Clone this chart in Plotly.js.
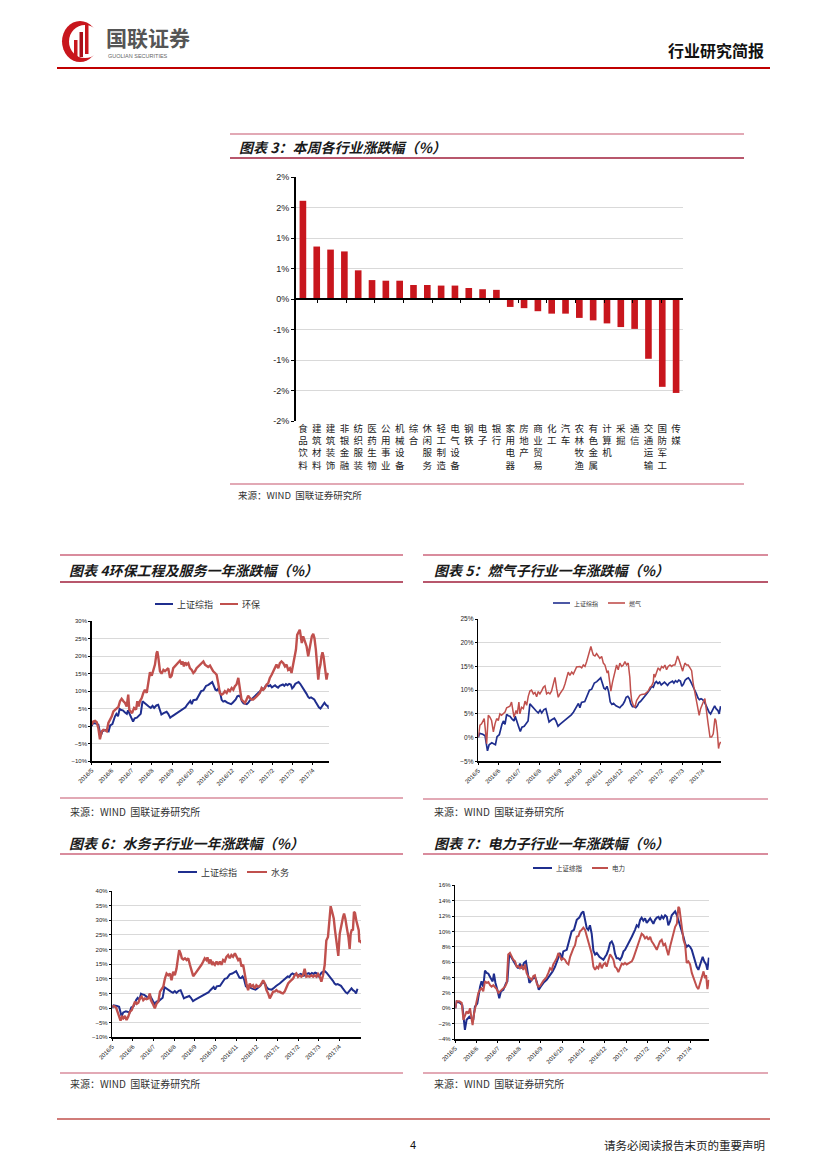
<!DOCTYPE html>
<html><head><meta charset="utf-8">
<script src="https://cdn.plot.ly/plotly-3.0.1.min.js"></script>
<style>html,body{margin:0;padding:0;background:#fff}#page{width:827px;height:1169px}</style>
</head><body><div id="page"></div>
<script>
// ---------- DATA ----------
const industries = ['食品饮料','建筑材料','建筑装饰','非银金融','纺织服装','医药生物','公用事业','机械设备','综合','休闲服务','轻工制造','电气设备','钢铁','电子','银行','家用电器','房地产','商业贸易','化工','汽车','农林牧渔','有色金属','计算机','采掘','通信','交通运输','国防军工','传媒'];
const weeklyChange = [1.61,0.86,0.81,0.78,0.47,0.31,0.30,0.30,0.23,0.23,0.22,0.22,0.18,0.16,0.15,-0.13,-0.15,-0.20,-0.24,-0.24,-0.31,-0.35,-0.40,-0.46,-0.49,-0.98,-1.44,-1.54];
const barTickVals = [-2,-1.5,-1,-0.5,0,0.5,1,1.5,2];
const barTickText = ['-2%','-2%','-1%','-1%','0%','1%','1%','2%','2%'];

const monthTicks = [0,1,2,3,4,5,6,7,8,9,10,11];
const monthLabels = ['2016/5','2016/6','2016/7','2016/8','2016/9','2016/10','2016/11','2016/12','2017/1','2017/2','2017/3','2017/4'];

// 上证综指 (months since 2016/5, %)
const shIndexMonths = [0,0.06,0.22,0.33,0.45,0.53,0.66,0.77,0.84,0.92,1.03,1.16,1.23,1.31,1.39,1.47,1.55,1.66,1.75,1.81,1.88,1.97,2.06,2.14,2.25,2.38,2.44,2.53,2.64,2.75,2.84,2.94,3.03,3.11,3.22,3.31,3.38,3.47,3.58,3.66,3.73,3.81,3.91,4.00,4.13,4.28,4.44,4.56,4.67,4.75,4.83,4.91,4.98,5.06,5.22,5.38,5.45,5.56,5.69,5.81,5.92,6.00,6.08,6.16,6.23,6.31,6.39,6.47,6.55,6.63,6.75,6.86,6.94,7.02,7.09,7.17,7.25,7.33,7.41,7.48,7.56,7.64,7.72,7.80,7.88,7.95,8.11,8.27,8.42,8.50,8.58,8.66,8.73,8.81,8.89,8.97,9.13,9.20,9.28,9.36,9.44,9.52,9.59,9.67,9.75,9.83,9.91,9.98,10.06,10.14,10.22,10.30,10.38,10.45,10.53,10.61,10.69,10.77,10.84,10.92,11.00,11.08,11.16,11.23,11.31,11.39,11.47,11.55,11.59,11.66,11.75,11.81,11.88];
const shIndexValues = [0,0.9,0.7,0.4,-2.8,-1.5,-1.1,-1.3,-1.5,0.2,0.6,2.8,3.5,2.8,4.9,4.6,4.5,3.9,3.5,4.5,3.3,2.4,1.3,2.2,2.4,3.3,3.5,7.1,6.5,6.1,5.6,5.2,5.8,5.2,5.9,6.1,5.0,3.3,3.7,3.9,4.1,3.5,2.4,2.8,3.3,3.7,4.3,4.8,5.4,6.1,6.7,7.2,6.3,7.4,7.6,9.3,10.0,10.2,11.5,11.8,12.4,12.6,11.5,10.4,10.2,10.8,9.7,7.5,7.0,7.2,6.7,6.5,6.3,6.7,7.0,7.6,8.5,8.7,8.2,7.1,6.5,6.5,6.3,6.7,7.4,7.6,8.4,9.3,10.2,10.8,10.6,11.5,11.8,11.4,11.7,11.1,11.7,11.3,11.0,11.5,11.8,11.9,11.5,12.0,11.7,12.1,11.9,10.8,11.3,12.1,12.4,12.6,12.1,11.5,10.8,10.2,9.3,8.4,8.0,8.2,8.0,7.6,6.8,6.1,5.4,5.0,5.7,6.3,6.7,6.1,5.7,5.0,6.6];

// 环保
const envMonths = [0,0.08,0.17,0.25,0.33,0.41,0.50,0.58,0.66,0.75,0.83,0.91,1.00,1.08,1.16,1.24,1.33,1.41,1.49,1.58,1.66,1.74,1.82,1.87,1.94,2.01,2.11,2.21,2.27,2.34,2.40,2.49,2.57,2.65,2.74,2.82,2.90,2.99,3.07,3.15,3.23,3.27,3.32,3.40,3.48,3.57,3.65,3.73,3.81,3.90,3.98,4.06,4.23,4.31,4.39,4.48,4.53,4.59,4.66,4.73,4.81,4.89,4.98,5.06,5.14,5.22,5.31,5.39,5.47,5.56,5.64,5.72,5.80,5.89,5.97,6.05,6.14,6.22,6.30,6.38,6.47,6.55,6.63,6.72,6.80,6.88,6.97,7.05,7.13,7.21,7.30,7.35,7.41,7.46,7.55,7.63,7.71,7.79,7.88,7.96,8.04,8.13,8.21,8.29,8.37,8.46,8.54,8.62,8.71,8.79,8.87,8.96,9.04,9.12,9.20,9.29,9.37,9.45,9.54,9.62,9.70,9.78,9.87,9.95,10.03,10.12,10.17,10.23,10.30,10.36,10.41,10.46,10.53,10.61,10.70,10.78,10.83,10.90,10.96,11.03,11.09,11.16,11.23,11.28,11.33,11.39,11.44,11.49,11.54,11.61,11.66,11.69,11.74,11.79];
const envValues = [0.4,1.3,1.5,1.1,-0.6,-3.8,-1.5,-1.1,-1.2,-1.5,0.9,1.8,2.8,4.2,4.7,4.9,5.5,7.1,7.8,7.1,6.6,5.6,9.0,4.7,4.2,3.7,5.2,4.7,7.1,5.6,7.1,8.0,9.5,10.4,9.5,12.3,15.4,14.4,16.0,17.6,20.9,21.4,19.5,15.7,15.0,16.1,15.7,16.3,16.6,13.8,14.4,16.6,17.6,18.0,18.7,17.6,18.5,17.1,18.2,17.6,18.0,16.6,16.1,15.2,15.7,16.6,17.1,17.6,18.2,18.5,17.6,17.1,16.9,17.3,16.3,15.7,15.2,14.7,12.3,9.5,9.0,9.3,10.0,9.5,10.4,10.0,10.9,10.4,11.4,11.9,13.8,12.3,9.5,7.6,7.1,6.6,7.6,8.7,8.0,7.6,7.6,8.0,8.5,9.0,9.5,10.9,10.4,10.9,11.9,12.3,13.8,14.7,15.7,16.6,17.6,16.6,18.0,18.5,18.0,17.1,17.6,16.1,16.6,15.2,17.6,19.5,21.9,26.1,27.1,27.6,25.7,23.8,25.7,24.2,22.8,20.0,21.9,24.2,25.7,26.4,25.2,21.9,17.1,13.3,16.1,17.6,20.0,21.1,20.0,16.6,14.2,13.3,14.7,15.2];

// 燃气
const gasMonths = [0,0.08,0.16,0.25,0.29,0.34,0.41,0.49,0.57,0.65,0.74,0.82,0.90,0.98,1.06,1.14,1.23,1.31,1.39,1.47,1.55,1.63,1.68,1.75,1.85,1.91,1.99,2.04,2.12,2.21,2.29,2.37,2.45,2.53,2.61,2.70,2.78,2.86,2.94,3.02,3.10,3.19,3.27,3.35,3.43,3.51,3.59,3.68,3.76,3.84,3.92,4.00,4.08,4.17,4.25,4.33,4.41,4.49,4.58,4.66,4.82,4.98,5.07,5.15,5.23,5.31,5.39,5.47,5.52,5.59,5.64,5.72,5.80,5.88,5.96,6.05,6.13,6.21,6.26,6.32,6.37,6.45,6.50,6.58,6.65,6.73,6.78,6.86,6.94,7.03,7.11,7.19,7.27,7.35,7.40,7.43,7.47,7.52,7.60,7.68,7.76,7.84,7.92,8.01,8.09,8.17,8.25,8.33,8.42,8.50,8.58,8.61,8.66,8.74,8.77,8.82,8.91,8.99,9.07,9.15,9.23,9.31,9.40,9.48,9.56,9.64,9.72,9.77,9.84,9.89,9.97,10.02,10.08,10.13,10.21,10.29,10.38,10.46,10.54,10.62,10.70,10.78,10.83,10.90,10.95,11.03,11.11,11.16,11.23,11.27,11.36,11.44,11.52,11.60,11.65,11.72,11.78,11.81,11.88];
const gasValues = [0.1,2.6,2.9,3.6,4.0,1.9,-1.3,4.7,4.3,3.6,1.2,2.9,4.0,3.6,5.0,4.7,5.2,5.4,6.3,6.4,6.6,7.5,5.7,4.3,5.7,5.0,7.5,5.0,6.4,6.1,7.7,6.8,8.7,9.8,10.0,9.2,9.5,8.6,9.7,9.2,9.8,10.6,10.9,9.2,9.5,9.2,9.8,11.3,12.7,10.3,8.5,9.2,9.8,10.3,11.3,12.7,13.8,13.1,13.8,13.4,14.9,15.0,14.7,15.3,15.0,16.0,17.1,18.5,19.2,18.1,17.4,17.2,17.7,17.2,16.7,17.1,15.7,15.3,14.7,13.6,14.1,11.3,9.8,11.7,13.1,14.1,15.3,14.3,15.7,15.0,15.3,16.0,15.3,15.7,14.3,12.7,9.8,7.8,6.8,6.4,7.8,8.5,8.9,9.1,9.1,9.2,9.5,9.8,10.6,10.9,11.7,13.4,12.7,13.8,14.0,14.7,14.2,15.0,14.7,15.3,14.3,15.0,15.3,15.0,15.3,15.3,16.4,17.2,16.4,15.7,14.7,14.0,15.0,15.7,15.3,15.3,14.7,14.1,11.3,9.6,8.2,6.4,4.7,6.1,6.8,7.5,8.2,6.8,5.0,2.9,0.1,0.1,0.8,4.0,3.6,1.2,-2.3,-1.6,-0.9];

// 水务
const waterMonths = [0,0.08,0.18,0.26,0.34,0.40,0.47,0.53,0.61,0.69,0.77,0.85,0.94,1.02,1.10,1.18,1.26,1.34,1.42,1.50,1.58,1.66,1.74,1.82,1.87,1.95,2.02,2.06,2.15,2.23,2.31,2.39,2.47,2.55,2.63,2.71,2.79,2.87,2.95,3.03,3.11,3.19,3.24,3.31,3.37,3.44,3.52,3.60,3.68,3.76,3.84,3.92,4.00,4.08,4.16,4.24,4.32,4.40,4.48,4.56,4.61,4.69,4.76,4.84,4.89,4.97,5.05,5.13,5.21,5.29,5.37,5.45,5.53,5.61,5.69,5.77,5.85,5.94,6.02,6.10,6.18,6.26,6.34,6.42,6.50,6.58,6.66,6.74,6.82,6.90,6.98,7.06,7.15,7.23,7.31,7.39,7.47,7.55,7.63,7.71,7.79,7.87,7.95,8.03,8.11,8.19,8.27,8.35,8.44,8.52,8.60,8.68,8.76,8.84,8.92,9.00,9.08,9.16,9.24,9.32,9.40,9.48,9.56,9.65,9.73,9.81,9.89,9.97,10.05,10.13,10.21,10.29,10.32,10.37,10.45,10.53,10.58,10.65,10.73,10.79,10.85,10.95,11.02,11.10,11.18,11.23,11.29,11.37,11.44,11.50,11.55,11.60,11.66,11.71,11.76,11.82,11.89,11.94,11.97,12.02,12.06];
const waterValues = [0.5,0.7,0.2,-1.3,-3.0,-4.3,-3.0,-3.5,-2.7,-4.1,-3.0,-1.3,-0.7,1.0,2.2,1.4,1.8,3.3,3.9,2.7,3.3,3.0,3.3,5.0,2.7,1.6,0.5,-0.1,1.6,2.2,5.6,6.7,7.3,10.1,11.8,11.2,11.8,9.5,12.4,11.2,13.4,17.5,19.8,18.6,17.0,16.6,17.0,16.4,17.0,14.8,12.5,10.9,11.6,12.4,12.9,14.1,14.8,15.8,17.0,16.4,17.3,15.2,16.6,14.7,15.5,14.8,15.9,14.8,15.9,14.8,16.4,15.9,17.5,18.1,17.0,18.1,17.5,18.7,17.5,16.4,17.0,14.2,14.8,10.9,8.4,6.1,8.4,7.3,7.8,6.7,7.8,7.3,7.5,8.4,9.5,8.4,6.1,5.0,3.3,4.4,5.6,5.6,6.1,5.6,5.6,5.2,5.0,5.6,7.3,8.4,9.0,9.5,10.1,11.2,11.8,10.7,11.2,10.7,11.2,13.4,10.7,10.9,10.7,11.2,10.7,11.2,10.7,11.6,10.7,9.0,11.2,14.7,18.6,23.1,24.3,31.1,34.8,32.9,30.6,26.6,23.1,17.8,25.4,28.9,31.1,32.3,30.6,27.1,24.3,20.2,25.4,26.6,26.8,32.9,32.5,30.0,28.3,26.6,22.5,23.1,22.2];

// 电力
const powerMonths = [0,0.06,0.19,0.30,0.38,0.45,0.53,0.61,0.69,0.77,0.81,0.88,0.97,1.08,1.16,1.23,1.31,1.39,1.47,1.55,1.63,1.70,1.78,1.86,1.94,2.02,2.09,2.17,2.25,2.33,2.41,2.48,2.56,2.64,2.72,2.80,2.88,2.95,3.03,3.11,3.19,3.27,3.34,3.42,3.50,3.58,3.66,3.73,3.81,3.89,3.97,4.05,4.13,4.20,4.28,4.36,4.44,4.52,4.59,4.67,4.75,4.83,4.91,4.98,5.06,5.14,5.22,5.30,5.38,5.45,5.53,5.61,5.69,5.77,5.84,5.92,6.00,6.08,6.16,6.23,6.31,6.39,6.47,6.55,6.63,6.70,6.78,6.86,6.94,7.02,7.09,7.17,7.25,7.33,7.41,7.48,7.56,7.64,7.72,7.80,7.88,7.95,8.03,8.11,8.19,8.27,8.34,8.42,8.50,8.58,8.66,8.73,8.81,8.89,8.97,9.05,9.13,9.20,9.28,9.36,9.44,9.52,9.59,9.67,9.75,9.83,9.91,9.98,10.06,10.14,10.22,10.30,10.38,10.45,10.50,10.56,10.61,10.69,10.77,10.84,10.92,11.00,11.08,11.16,11.23,11.31,11.39,11.47,11.55,11.63,11.70,11.75,11.81,11.88];
const powerValues = [0,0.9,0.9,0.7,-1.5,-0.9,-0.4,-0.7,0.0,-1.5,-2.2,-0.7,0.7,2.0,2.4,2.6,2.2,3.5,3.3,3.4,3.0,2.8,3.0,2.8,2.5,2.0,2.2,2.3,2.6,2.8,3.3,7.0,7.2,6.7,6.3,6.1,5.4,5.5,5.2,5.5,5.0,5.7,4.6,4.1,3.9,3.7,4.2,4.3,3.3,2.8,2.9,3.3,3.6,3.8,4.1,4.6,5.2,5.0,5.7,6.1,6.5,7.2,6.7,6.3,6.5,6.3,5.9,5.7,6.7,7.3,7.8,8.2,9.3,9.4,10.0,10.2,10.5,10.2,9.3,8.9,8.0,7.1,5.4,5.0,5.4,5.2,5.9,5.2,5.7,5.9,5.4,6.3,7.0,6.7,6.3,5.4,5.2,4.7,5.4,5.8,5.7,5.9,5.7,5.8,5.9,6.1,6.5,7.2,8.0,8.7,9.3,9.7,9.5,9.1,9.3,8.9,9.3,8.7,8.4,8.0,7.6,8.2,8.7,8.9,8.2,8.4,7.6,6.9,8.0,8.9,9.7,10.6,11.0,13.2,13.0,11.5,10.2,8.9,8.2,5.9,6.1,5.7,4.6,3.9,3.3,2.8,2.5,3.3,4.3,4.8,3.9,4.3,2.5,3.7];

// ---------- LAYOUT HELPERS ----------
const W = 827, H = 1169;
const px = x => x / W, py = y => 1 - y / H;
const CJK = '"Noto Sans CJK SC", "Noto Sans", Arial, sans-serif';
const BLUE = '#1f2e8e', RED = '#c0504d', BARRED = '#c8161d';
const PINK = '#d98c9d', DARK = '#a11f3b';

function hline(x0, x1, y, color, width) {
  return {type:'line', xref:'paper', yref:'paper', x0:px(x0), x1:px(x1), y0:py(y), y1:py(y), line:{color:color, width:width}, layer:'above'};
}
function ann(text, x, y, size, opts) {
  opts = opts || {};
  return Object.assign({text:text, x:px(x), y:py(y), xref:'paper', yref:'paper', showarrow:false,
    xanchor:'left', yanchor:'middle', font:{family:CJK, size:size, color:'#1a1a1a'}}, opts);
}
function legend(bx0, bx1, rx0, rx1, y, redLabel, size, lw) {
  return {
    shapes:[hline(bx0, bx1, y, BLUE, lw), hline(rx0, rx1, y, RED, lw)],
    anns:[ann('上证综指', bx1 + 2, y, size, {font:{family:CJK, size:size, color:'#333'}}),
          ann(redLabel, rx1 + 2, y, size, {font:{family:CJK, size:size, color:'#333'}})]
  };
}

const shapes = [];
const annotations = [];

// header
shapes.push(hline(57, 770, 68, '#c00000', 2));
shapes.push({type:'circle', xref:'paper', yref:'paper', x0:px(62), x1:px(98), y0:py(62), y1:py(21), fillcolor:'#c8161d', line:{width:0}});
shapes.push({type:'circle', xref:'paper', yref:'paper', x0:px(69), x1:px(101), y0:py(58), y1:py(25), fillcolor:'#ffffff', line:{width:0}});
shapes.push({type:'rect', xref:'paper', yref:'paper', x0:px(74), x1:px(77.5), y0:py(58), y1:py(40), fillcolor:'#c8161d', line:{width:0}});
shapes.push({type:'rect', xref:'paper', yref:'paper', x0:px(79.5), x1:px(83), y0:py(57), y1:py(32), fillcolor:'#a8101a', line:{width:0}});
shapes.push({type:'rect', xref:'paper', yref:'paper', x0:px(85), x1:px(88.5), y0:py(54), y1:py(24), fillcolor:'#c8161d', line:{width:0}});
annotations.push(ann('<b>国联证券</b>', 104, 36.5, 21, {font:{family:CJK, size:21, color:'#555555'}}));
annotations.push(ann('GUOLIAN SECURITIES', 106, 56.5, 5.5, {font:{family:'Arial', size:5.5, color:'#666'}}));
annotations.push(ann('<b>行业研究简报</b>', 766, 50, 16, {xanchor:'right', font:{family:CJK, size:16, color:'#111'}}));

// footer
shapes.push(hline(57, 770, 1119, '#c0504d', 1.5));
annotations.push(ann('4', 413, 1145, 11, {xanchor:'center', font:{family:'Arial', size:11, color:'#111'}}));
annotations.push(ann('请务必阅读报告末页的重要声明', 767, 1145, 11.5, {xanchor:'right', font:{family:CJK, size:11.5, color:'#222'}}));

// chart 3 frame
shapes.push(hline(230, 744, 134, PINK, 1.5));
shapes.push(hline(230, 744, 158, DARK, 1.5));
shapes.push(hline(230, 744, 484, PINK, 1.5));
annotations.push(ann('<b><i>图表 3：本周各行业涨跌幅（%）</i></b>', 237, 146.5, 14));
annotations.push(ann('来源：WIND  国联证券研究所', 236, 495, 9.5, {font:{family:CJK, size:9.5, color:'#333'}}));

// chart 4 frame
shapes.push(hline(60, 403, 555, PINK, 2));
shapes.push(hline(60, 403, 582, DARK, 1.5));
shapes.push(hline(60, 403, 798, PINK, 1.5));
annotations.push(ann('<b><i>图表 4环保工程及服务一年涨跌幅（%）</i></b>', 67, 570, 14));
annotations.push(ann('来源：WIND  国联证券研究所', 68, 811.5, 10, {font:{family:CJK, size:10, color:'#333'}}));
let lg = legend(155, 173, 220, 238, 604, '环保', 9, 2);
shapes.push(...lg.shapes); annotations.push(...lg.anns);

// chart 5 frame
shapes.push(hline(423, 768, 555, PINK, 2));
shapes.push(hline(423, 768, 582, DARK, 1.5));
shapes.push(hline(423, 768, 799, PINK, 1.5));
annotations.push(ann('<b><i>图表 5：燃气子行业一年涨跌幅（%）</i></b>', 432, 570, 14));
annotations.push(ann('来源：WIND  国联证券研究所', 432, 811.5, 10, {font:{family:CJK, size:10, color:'#333'}}));
lg = legend(553, 570, 608, 625, 603, '燃气', 6, 1.6);
shapes.push(...lg.shapes); annotations.push(...lg.anns);

// chart 6 frame
shapes.push(hline(60, 403, 854, PINK, 2));
shapes.push(hline(60, 403, 1073, PINK, 1.5));
annotations.push(ann('<b><i>图表 6：水务子行业一年涨跌幅（%）</i></b>', 67, 842.5, 14));
annotations.push(ann('来源：WIND  国联证券研究所', 68, 1083.5, 10, {font:{family:CJK, size:10, color:'#333'}}));
lg = legend(178, 197, 247, 267, 872, '水务', 9, 2);
shapes.push(...lg.shapes); annotations.push(...lg.anns);

// chart 7 frame
shapes.push(hline(423, 768, 854, PINK, 2));
shapes.push(hline(423, 768, 1073, PINK, 1.5));
annotations.push(ann('<b><i>图表 7：电力子行业一年涨跌幅（%）</i></b>', 432, 842.5, 14));
annotations.push(ann('来源：WIND  国联证券研究所', 432, 1083.5, 10, {font:{family:CJK, size:10, color:'#333'}}));
lg = legend(533, 552, 592, 608, 868, '电力', 6.5, 2);
shapes.push(...lg.shapes); annotations.push(...lg.anns);

// ---------- TRACES ----------
const traces = [
  {type:'bar', x:industries, y:weeklyChange, xaxis:'x', yaxis:'y', marker:{color:BARRED}, hoverinfo:'skip'},
  {type:'scatter', mode:'none', x:industries, y:weeklyChange, xaxis:'x6', yaxis:'y', hoverinfo:'skip'},
  {type:'scatter', mode:'lines', x:shIndexMonths, y:shIndexValues, xaxis:'x2', yaxis:'y2', line:{color:BLUE, width:2}},
  {type:'scatter', mode:'lines', x:envMonths, y:envValues, xaxis:'x2', yaxis:'y2', line:{color:RED, width:2.4}},
  {type:'scatter', mode:'lines', x:shIndexMonths, y:shIndexValues, xaxis:'x3', yaxis:'y3', line:{color:BLUE, width:1.7}},
  {type:'scatter', mode:'lines', x:gasMonths, y:gasValues, xaxis:'x3', yaxis:'y3', line:{color:RED, width:1.5}},
  {type:'scatter', mode:'lines', x:shIndexMonths, y:shIndexValues, xaxis:'x4', yaxis:'y4', line:{color:BLUE, width:2}},
  {type:'scatter', mode:'lines', x:waterMonths, y:waterValues, xaxis:'x4', yaxis:'y4', line:{color:RED, width:2.4}},
  {type:'scatter', mode:'lines', x:shIndexMonths, y:shIndexValues, xaxis:'x5', yaxis:'y5', line:{color:BLUE, width:2}},
  {type:'scatter', mode:'lines', x:powerMonths, y:powerValues, xaxis:'x5', yaxis:'y5', line:{color:RED, width:2}}
];

function lineX(x0, x1, yAnchor, rmax) {
  return {domain:[px(x0), px(x1)], anchor:yAnchor, range:[0, rmax], tickmode:'array', tickvals:monthTicks, ticktext:monthLabels,
    tickangle:-45, tickfont:{family:'Arial', size:6, color:'#111'}, showline:true, linecolor:'#000', linewidth:1.5,
    ticks:'outside', ticklen:2, tickcolor:'#000', showgrid:false, zeroline:false, fixedrange:true};
}
function lineY(ytop, ybot, xAnchor, rmin, rmax, dtick, fsize) {
  return {domain:[py(ybot), py(ytop)], anchor:xAnchor, range:[rmin, rmax], dtick:dtick, tick0:0, ticksuffix:'%',
    tickfont:{family:'Arial', size:fsize, color:'#222'}, showline:true, linecolor:'#000', linewidth:1.5,
    ticks:'outside', ticklen:2, tickcolor:'#000', showgrid:true, gridcolor:'#d9d9d9', gridwidth:1, zeroline:false, fixedrange:true};
}

const layout = {
  width:W, height:H, margin:{l:0, r:0, t:0, b:0}, paper_bgcolor:'#fff', plot_bgcolor:'rgba(0,0,0,0)',
  showlegend:false, bargap:0.52, font:{family:CJK},
  xaxis:{domain:[px(296), px(683)], anchor:'y', type:'category', tickmode:'array', tickvals:industries,
    ticktext:industries.map(s => s.split('').join('<br>')), tickfont:{family:CJK, size:9.5, color:'#222'},
    showline:false, showgrid:false, zeroline:false, ticks:'', fixedrange:true},
  xaxis6:{overlaying:'x', anchor:'free', position:py(299), type:'category', showticklabels:false,
    showline:true, linecolor:'#000', linewidth:2, ticks:'outside', tickson:'boundaries', ticklen:3, tickcolor:'#000',
    showgrid:false, zeroline:false, fixedrange:true},
  yaxis:{domain:[py(421), py(177)], anchor:'x', range:[-2, 2], tickmode:'array', tickvals:barTickVals, ticktext:barTickText,
    tickfont:{family:'Arial', size:9, color:'#222'}, showline:true, linecolor:'#000', linewidth:2, ticks:'outside', ticklen:3,
    tickcolor:'#000', showgrid:true, gridcolor:'#d9d9d9', zeroline:false, fixedrange:true},
  xaxis2:lineX(91.7, 328.7, 'y2', 11.8),
  yaxis2:lineY(621.3, 761, 'x2', -10, 30, 5, 6),
  xaxis3:lineX(478.3, 721, 'y3', 11.9),
  yaxis3:lineY(619, 761.3, 'x3', -5, 25, 5, 6.5),
  xaxis4:lineX(112.3, 361, 'y4', 12.05),
  yaxis4:lineY(891, 1037.3, 'x4', -10, 40, 5, 6),
  xaxis5:lineX(455.3, 709.3, 'y5', 11.9),
  yaxis5:lineY(885.3, 1039, 'x5', -4, 16, 2, 6),
  shapes:shapes, annotations:annotations
};

Plotly.newPlot('page', traces, layout, {staticPlot:true, displayModeBar:false});
</script>
</body></html>
